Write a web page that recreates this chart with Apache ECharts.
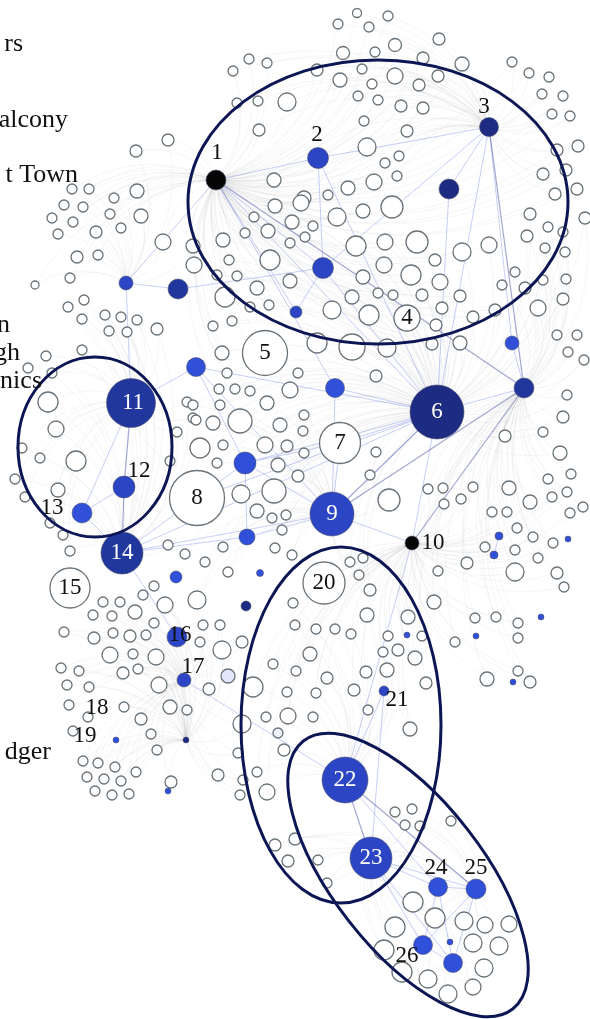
<!DOCTYPE html>
<html>
<head>
<meta charset="utf-8">
<script src="https://cdn.jsdelivr.net/npm/echarts@6/dist/echarts.min.js"></script>
<style>
html, body { margin: 0; padding: 0; background: #ffffff; }
#chart { width: 590px; height: 1019px; }
</style>
</head>
<body>
<div id="chart"></div>
<script>
// ---- Highlighted (numbered and coloured) nodes: [id, label, x, y, weight, colourKey]
const keyNodes = [
  ['k1', '1', 216, 180, 10, 'black'],
  ['k2', '2', 318, 158, 10.5, 'royal'],
  ['k3', '3', 489, 127, 9.5, 'navy'],
  ['k4', '4', 407, 318, 13, 'white'],
  ['k5', '5', 265, 353, 22.5, 'white'],
  ['k6', '6', 437, 412, 27, 'navy'],
  ['k7', '7', 340, 443, 20.5, 'white'],
  ['k8', '8', 197, 498, 27.5, 'white'],
  ['k9', '9', 332, 514, 22, 'royal'],
  ['k10', '10', 412, 543, 7, 'black'],
  ['k11', '11', 131, 403, 24.5, 'deep'],
  ['k12', '12', 124, 487, 11, 'royal'],
  ['k13', '13', 82, 513, 10, 'bright'],
  ['k14', '14', 122, 553, 21, 'deep'],
  ['k15', '15', 70, 588, 20, 'white'],
  ['k16', '16', 177, 637, 10, 'royal'],
  ['k17', '17', 184, 680, 7, 'royal'],
  ['k18', '18', 88, 717, 5, 'white'],
  ['k19', '19', 73, 731, 5, 'white'],
  ['k20', '20', 324, 583, 21, 'white'],
  ['k21', '21', 384, 691, 5, 'royal'],
  ['k22', '22', 345, 780, 23, 'royal'],
  ['k23', '23', 371, 858, 21, 'royal'],
  ['k24', '24', 438, 887, 9.5, 'bright'],
  ['k25', '25', 476, 889, 10, 'bright'],
  ['k26', '26', 423, 945, 9.5, 'bright']
];

// ---- Other coloured nodes without a number: [id, x, y, weight, colourKey]
const colouredNodes = [
  ['b448', 449, 189, 10, 'navy'],
  ['b323', 323, 268, 10.5, 'royal'],
  ['b126', 126, 283, 7, 'royal'],
  ['b177', 178, 289, 10, 'deep'],
  ['b296', 296, 312, 6, 'royal'],
  ['b196', 196, 367, 9.5, 'bright'],
  ['b335', 335, 388, 9.5, 'bright'],
  ['b512', 512, 343, 7, 'bright'],
  ['b525', 524, 388, 10, 'deep'],
  ['b245', 245, 463, 11, 'bright'],
  ['b247', 247, 537, 8, 'bright'],
  ['b176', 176, 577, 6, 'bright'],
  ['b260', 260, 573, 3.5, 'bright'],
  ['b246', 246, 606, 5, 'navy'],
  ['n186', 186, 740, 3, 'navy'],
  ['b116', 116, 740, 3, 'bright'],
  ['b168', 168, 791, 3, 'bright'],
  ['b499', 499, 536, 4, 'bright'],
  ['b494', 494, 555, 4, 'bright'],
  ['b568', 568, 539, 3, 'bright'],
  ['b406', 407, 635, 3, 'bright'],
  ['b476', 476, 636, 3, 'bright'],
  ['b541', 541, 617, 3, 'bright'],
  ['b513', 513, 682, 3, 'bright'],
  ['b450', 450, 942, 3, 'bright'],
  ['b453', 453, 963, 9.5, 'bright'],
  ['l228', 228, 676, 7, 'lavender'],
  ['l278', 278, 733, 5, 'pale']
];

// ---- Plain (white) nodes per neighbourhood: [x, y, weight]
const topNodes = [
  [357,13,4.5],[388,16,5],[338,24,5],[369,27,5],[395,45,6.5],[439,39,6],[343,53,6.5],[375,52,5],
  [423,58,6],[462,64,7],[512,62,5],[529,73,5],[549,77,5],[249,59,5],[267,63,5],[233,71,5],
  [317,70,6],[362,69,5],[340,80,7],[372,84,5],[395,76,8],[419,85,6],[438,76,6],[542,94,5],
  [563,96,5],[287,102,9],[258,101,5],[237,103,5],[358,96,5],[378,100,5],[401,106,6],[423,108,6],
  [552,114,5],[570,116,5],[364,121,5],[407,131,6],[259,130,6],[367,147,9],[399,156,5],[385,163,5],
  [397,176,5],[557,150,6],[578,146,6],[274,180,7],[348,188,7],[374,182,8],[543,174,6],[566,170,6],
  [577,189,6],[555,194,6],[304,198,7],[328,195,5]
];
const upperLeftNodes = [
  [168,140,6],[136,151,6],[137,191,7],[72,189,5],[89,189,5],[114,198,5],[141,216,7],[64,205,5],
  [83,207,5],[110,214,5],[52,218,5],[73,222,5],[96,232,6],[121,228,5],[58,234,5],[163,242,8],
  [193,246,7],[77,257,6],[98,255,5],[70,278,5],[35,285,4]
];
const midNodes = [
  [337,217,9],[363,211,7],[313,226,5],[305,237,5],[292,222,7],[268,231,7],[254,217,5],[275,206,7],
  [301,203,8],[245,233,5],[223,240,7],[194,265,8],[229,260,5],[270,260,10],[290,243,5],[237,276,5],
  [217,275,5],[257,288,7],[290,281,7],[225,297,10],[250,307,5],[269,305,5],[213,326,5],[232,321,5],
  [222,353,7],[227,373,5],[219,389,5],[235,389,5],[250,391,5],[298,373,5],[290,390,8],[317,343,10],
  [332,310,9],[352,297,7],[369,315,10],[352,347,13],[363,277,7],[356,246,10],[378,293,5],[393,295,5],
  [387,348,9],[376,376,6],[392,207,11],[417,242,11],[385,242,8],[435,260,6],[462,252,9],[489,245,8],
  [384,265,8],[411,275,10],[440,282,8],[460,296,6],[422,295,6],[436,325,6],[432,344,6],[442,308,6],
  [473,317,6],[460,343,7],[495,310,6]
];
const rightNodes = [
  [530,214,6],[548,227,5],[563,232,5],[585,218,6],[527,236,6],[545,248,5],[565,252,5],[515,272,5],
  [502,285,5],[525,288,6],[543,280,5],[566,279,5],[563,299,6],[538,308,8],[557,335,5],[577,335,5],
  [568,352,5],[584,360,5],[567,395,5],[563,417,6],[543,432,5],[505,436,6],[560,453,7]
];
const leftNodes = [
  [68,307,5],[84,300,5],[105,315,5],[121,317,5],[137,320,5],[82,319,5],[109,331,5],[127,332,5],
  [157,329,6],[82,350,5],[46,356,5],[28,368,5],[52,373,5],[48,402,10],[56,429,8],[22,448,5],
  [40,458,5],[76,461,10],[58,490,7],[15,479,5],[25,497,5],[177,432,5],[170,461,5],[187,402,5],
  [193,418,5],[50,523,5],[63,535,5],[70,551,5],[168,545,5]
];
const centerNodes = [
  [196,420,5],[213,423,7],[240,421,12],[280,425,7],[220,405,5],[267,403,7],[193,405,5],[304,415,5],
  [303,431,5],[200,448,10],[223,445,5],[265,445,8],[287,446,6],[304,453,5],[376,452,5],[217,463,5],
  [278,465,7],[298,476,6],[241,494,9],[274,491,12],[257,511,7],[272,518,5],[286,515,5],[282,530,5],
  [370,475,5],[389,500,11],[275,548,5],[292,555,5],[223,547,5],[185,554,5],[205,562,5],[228,572,5],
  [350,562,5],[363,558,5],[359,575,5],[370,590,6],[197,600,9]
];
const rightMidNodes = [
  [428,489,5],[443,488,5],[461,499,5],[444,504,5],[473,487,5],[492,512,5],[507,512,5],[509,488,7],
  [530,502,7],[548,479,5],[552,497,5],[567,492,5],[571,474,5],[570,513,5],[583,507,5],[517,528,5],
  [533,537,5],[553,543,5],[485,547,5],[515,550,5],[538,558,5],[467,563,6],[438,571,5],[515,572,9],
  [557,573,6],[564,587,5],[434,602,7],[475,618,5],[496,617,5],[518,623,5],[518,638,5],[455,642,5],
  [487,679,7],[518,671,5],[530,682,6],[408,617,7],[422,636,5],[415,658,7],[426,683,6],[410,729,7]
];
const lowerLeftNodes = [
  [103,602,5],[120,602,5],[135,612,7],[143,595,5],[154,586,5],[165,605,8],[93,615,5],[112,616,5],
  [154,623,5],[64,632,5],[94,638,6],[113,633,5],[130,636,6],[146,635,5],[110,655,8],[133,654,5],
  [156,657,8],[61,668,5],[79,671,5],[123,673,6],[138,669,5],[159,685,8],[67,685,5],[89,687,5],
  [69,705,5],[124,707,5],[141,719,6],[170,707,7],[187,710,5],[151,734,5],[157,750,5],[83,761,5],
  [98,763,5],[115,767,5],[136,772,5],[87,777,5],[104,779,5],[121,781,5],[95,791,5],[112,795,5],
  [129,794,5],[171,782,6],[203,625,5],[220,625,5],[200,642,5],[242,642,6],[222,650,9],[209,689,6],
  [242,724,9],[238,753,5],[218,775,6],[243,780,5],[240,795,5]
];
const lowerMidNodes = [
  [293,603,5],[367,615,7],[295,625,5],[316,629,5],[335,629,5],[351,634,5],[388,636,5],[310,654,7],
  [383,652,5],[398,650,6],[273,664,5],[296,671,5],[327,678,6],[366,672,6],[387,670,7],[253,687,10],
  [287,692,5],[316,693,5],[354,690,6],[266,717,5],[288,716,8],[313,717,5],[368,710,5],[284,750,6],
  [257,772,5],[267,792,8]
];
const bottomNodes = [
  [395,812,5],[412,809,5],[405,825,5],[420,826,5],[451,821,5],[275,845,6],[295,839,6],[288,861,6],
  [318,860,5],[327,883,5],[413,902,10],[435,918,10],[464,921,9],[485,925,8],[509,924,8],[395,927,10],
  [384,950,10],[473,943,9],[499,946,9],[402,972,10],[428,979,9],[484,968,9],[448,994,9],[473,987,8]
];

// Which hubs each neighbourhood is tied to (faint background ties)
const neighbourhoods = [
  [topNodes, ['k1', 'k3']],
  [upperLeftNodes, ['k1', 'b126']],
  [midNodes, ['k6', 'k1']],
  [rightNodes, ['k6', 'b525']],
  [leftNodes, ['k11', 'k14']],
  [centerNodes, ['k9', 'k6']],
  [rightMidNodes, ['k10', 'b525']],
  [lowerLeftNodes, ['k17', 'n186']],
  [lowerMidNodes, ['k22', 'k10']],
  [bottomNodes, ['k23', 'k25']]
];

// Strong ties between coloured nodes: [source, target, dark?]
const strongTies = [
  ['k1','k2',0],['k2','k3',0],['k1','b525',1],['k1','b323',0],['k1','b296',0],['k1','b126',0],
  ['k1','k6',0],['k1','b335',0],['k2','b323',0],['k2','k6',0],['k3','b448',0],['k3','b512',0],
  ['k3','k6',0],['k3','b323',0],['k3','b525',1],['b448','k6',0],['b323','k6',0],['b323','b296',0],
  ['b323','b177',0],['b126','b177',0],['b126','k11',0],['b196','k6',0],['b196','k11',0],
  ['b196','b245',0],['b196','k9',0],['b335','k6',0],['b335','k9',0],['b512','b525',0],
  ['b525','k6',0],['b525','k9',1],['b525','k10',1],['k6','k7',0],['k6','k9',1],['k6','k14',0],
  ['k6','b245',0],['k6','k10',0],['k6','k8',0],['k7','k9',0],['k7','b245',0],['k9','k14',0],
  ['k9','k10',0],['k9','b247',0],['k9','b245',0],['k11','k12',1],['k11','k13',0],['k12','k13',0],
  ['k12','k14',1],['k13','k14',0],['k14','b245',0],['k14','b247',0],['k14','k16',0],
  ['b245','b247',0],['k17','k22',0],['k10','k22',0],['k21','k22',0],['k21','k23',0],
  ['k22','k23',1],['k22','k24',0],['k22','k25',1],['k23','k24',0],['k23','k25',0],['k23','k26',0],
  ['k23','b453',0],['k24','k25',0],['k24','k26',0],['k24','b453',0],['k25','b453',0],
  ['k26','b453',0],['k25','k26',0],['b499','b494',0]
];

// Partly visible side annotations: [text, right edge x, baseline y]
const sideNotes = [
  ['rs', 23, 52], ['alcony', 68, 128], ['t Town', 78, 183],
  ['n', 10, 333], ['gh', 20, 361], ['nics', 42, 389], ['dger', 51, 760]
];

// ---- Styling
const SERIF = '"Liberation Serif", "DejaVu Serif", serif';
const FILL = {
  black: '#050505', navy: '#1e2b82', deep: '#22379d', royal: '#2c45c4',
  bright: '#3150d9', white: '#ffffff', lavender: '#e3e7fa', pale: '#edf0fb'
};
const labelPlace = {
  k1: [1, -27], k2: [-1, -23], k3: [-5, -20], k10: [21, 0], k12: [15, -16], k13: [-30, -5],
  k16: [3, -2], k17: [9, -13], k18: [9, -9], k19: [12, 5], k21: [13, 9], k24: [-2, -19],
  k25: [0, -21], k26: [-16, 11], k11: [2, 0]
};
const whiteText = { k6: 1, k9: 1, k11: 1, k14: 1, k22: 1, k23: 1 };

const nodeData = [];
const linkData = [];
const faintLine = { color: 'rgba(150,150,150,0.18)', width: 1, curveness: 0.28 };

function nodeStyle(key) {
  if (key === 'white' || key === 'lavender' || key === 'pale') {
    return { color: FILL[key], borderColor: '#6a7379', borderWidth: 1.3 };
  }
  return { color: FILL[key], borderColor: 'rgba(70,78,100,0.7)', borderWidth: 0.8 };
}

neighbourhoods.forEach(([list, hubs]) => {
  list.forEach(([x, y, w]) => {
    const id = 'w' + nodeData.length;
    nodeData.push({ name: id, value: [x, y], symbolSize: w * 2, itemStyle: nodeStyle('white') });
    hubs.forEach(h => linkData.push({ source: id, target: h, lineStyle: faintLine }));
  });
});

colouredNodes.forEach(([id, x, y, w, c]) => {
  nodeData.push({ name: id, value: [x, y], symbolSize: w * 2, itemStyle: nodeStyle(c) });
});

keyNodes.forEach(([id, lbl, x, y, w, c]) => {
  nodeData.push({
    name: id, value: [x, y], symbolSize: w * 2, itemStyle: nodeStyle(c),
    label: {
      show: true, formatter: lbl, position: 'inside',
      offset: labelPlace[id] || [0, 0],
      color: whiteText[id] ? '#ffffff' : '#111111',
      fontSize: 23, fontFamily: SERIF
    }
  });
});

strongTies.forEach(([s, t, dark]) => {
  linkData.push({
    source: s, target: t,
    lineStyle: dark
      ? { color: 'rgba(35,50,150,0.85)', width: 1.2, curveness: 0 }
      : { color: 'rgba(70,95,225,0.6)', width: 1, curveness: 0 }
  });
});

// ---- Community outlines and side annotations
const RING = '#0c1654';
const graphics = [
  { type: 'ellipse', x: 378, y: 202, shape: { cx: 0, cy: 0, rx: 190, ry: 142 } },
  { type: 'ellipse', x: 95, y: 447, shape: { cx: 0, cy: 0, rx: 77, ry: 90 } },
  { type: 'ellipse', x: 341, y: 725, shape: { cx: 0, cy: 0, rx: 100, ry: 178 } },
  { type: 'ellipse', x: 408, y: 875, rotation: -52 * Math.PI / 180, shape: { cx: 0, cy: 0, rx: 170, ry: 75 } }
].map(e => Object.assign(e, { silent: true, z: 100, style: { fill: null, stroke: RING, lineWidth: 3 } }));

// text is centred vertically on its em box, which sits about 8px above the baseline
sideNotes.forEach(([t, x, y]) => {
  graphics.push({
    type: 'text', x: x, y: y - 8, silent: true, z: 100,
    style: { text: t, font: '26px ' + SERIF, fill: '#111111', align: 'right', verticalAlign: 'middle' }
  });
});

const chart = echarts.init(document.getElementById('chart'), null, { renderer: 'canvas' });
chart.setOption({
  animation: false,
  backgroundColor: '#ffffff',
  grid: { left: 0, right: 0, top: 0, bottom: 0 },
  xAxis: { type: 'value', min: 0, max: 590, show: false },
  yAxis: { type: 'value', min: 0, max: 1019, inverse: true, show: false },
  graphic: graphics,
  series: [{
    type: 'graph',
    coordinateSystem: 'cartesian2d',
    symbol: 'circle',
    silent: true,
    emphasis: { disabled: true },
    data: nodeData,
    links: linkData,
    z: 2
  }]
});
</script>
</body>
</html>
